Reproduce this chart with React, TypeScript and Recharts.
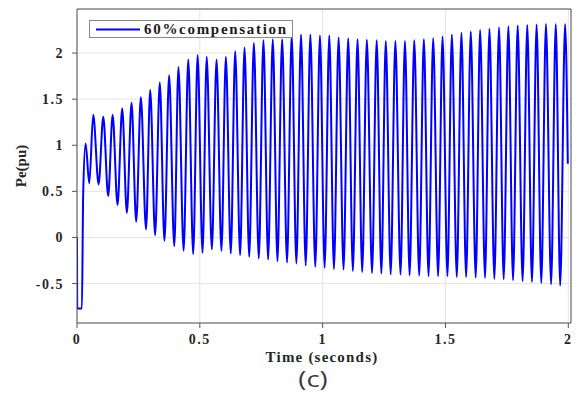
import React from "react";
import {
  LineChart,
  Line,
  XAxis,
  YAxis,
  CartesianGrid,
} from "recharts";

// start-up transient
const startT = [0, 0.001, 0.02, 0.025];
const startPe = [0, -0.77, -0.77, 0.45];

// oscillation crests
const peakT = [
  0.035, 0.066, 0.107, 0.145, 0.184, 0.222, 0.26, 0.298, 0.337, 0.375, 0.413, 0.453, 0.491, 0.528, 0.568, 0.606, 0.644,
  0.682, 0.72, 0.759, 0.797, 0.835, 0.874, 0.912, 0.95, 0.989, 1.027, 1.065, 1.104, 1.142, 1.18, 1.22, 1.257, 1.296,
  1.335, 1.373, 1.412, 1.45, 1.488, 1.526, 1.565, 1.603, 1.641, 1.679, 1.718, 1.756, 1.794, 1.833, 1.871, 1.909, 1.949, 1.987,
];
const peakPe = [
  1.02, 1.33, 1.31, 1.33, 1.4, 1.46, 1.52, 1.6, 1.68, 1.76, 1.85, 1.93, 1.98, 1.96, 1.93, 1.96, 2.02,
  2.06, 2.11, 2.14, 2.15, 2.15, 2.19, 2.2, 2.2, 2.19, 2.19, 2.17, 2.16, 2.15, 2.145, 2.14, 2.13, 2.13,
  2.13, 2.14, 2.15, 2.16, 2.18, 2.2, 2.22, 2.235, 2.25, 2.265, 2.28, 2.29, 2.3, 2.305, 2.31, 2.315, 2.315, 2.315,
];

// oscillation troughs
const troughT = [
  0.05, 0.088, 0.127, 0.165, 0.203, 0.241, 0.281, 0.318, 0.356, 0.396, 0.434, 0.473, 0.511, 0.549, 0.588, 0.626, 0.664,
  0.701, 0.74, 0.778, 0.816, 0.855, 0.893, 0.931, 0.97, 1.008, 1.046, 1.085, 1.123, 1.161, 1.201, 1.239, 1.277,
  1.317, 1.354, 1.393, 1.431, 1.47, 1.508, 1.546, 1.584, 1.623, 1.661, 1.699, 1.737, 1.775, 1.814, 1.852, 1.89, 1.93, 1.967,
];
const troughPe = [
  0.587, 0.576, 0.449, 0.351, 0.267, 0.17, 0.087, 0.025, -0.037, -0.095, -0.145, -0.18, -0.167, -0.13, -0.145, -0.174, -0.192,
  -0.21, -0.228, -0.239, -0.258, -0.272, -0.283, -0.305, -0.319, -0.33, -0.341, -0.348, -0.363, -0.374, -0.385, -0.391, -0.399,
  -0.402, -0.41, -0.413, -0.42, -0.42, -0.42, -0.428, -0.428, -0.435, -0.438, -0.45, -0.453, -0.464, -0.475, -0.482, -0.493, -0.507, -0.522,
];

const endT = [1.998];
const endPe = [0.8];

const xTicks = [0, 0.5, 1, 1.5, 2];
const yTicks = [-0.5, 0, 0.5, 1, 1.5, 2];

const rows = [
  ...startT.map((t, i) => ({ t, pe: startPe[i] })),
  ...peakT.map((t, i) => ({ t, pe: peakPe[i] })),
  ...troughT.map((t, i) => ({ t, pe: troughPe[i] })),
  ...endT.map((t, i) => ({ t, pe: endPe[i] })),
].sort((a, b) => a.t - b.t);

const serif = "'Liberation Serif', 'Times New Roman', serif";
const axisColor = "#555";
const tickStyle = {
  fill: "#262626",
  fontSize: 14,
  fontFamily: serif,
  fontWeight: 700,
  letterSpacing: 1.5,
};

export default function App() {
  return (
    <div
      style={{
        position: "absolute",
        left: 0,
        top: 0,
        width: 576,
        height: 393,
        background: "#fff",
      }}
    >
      <LineChart
        width={576}
        height={393}
        data={rows}
        margin={{ top: 0, right: 0, bottom: 0, left: 0 }}
      >
        <CartesianGrid stroke="#e4e4e4" />
        <XAxis
          dataKey="t"
          type="number"
          domain={[0, 2.011]}
          ticks={xTicks}
          allowDataOverflow
          height={70}
          tickSize={5}
          tickMargin={6}
          tick={tickStyle}
          axisLine={{ stroke: axisColor }}
          tickLine={{ stroke: axisColor }}
          label={(props: any) => {
            const vb = props.viewBox || { x: 77, width: 494 };
            return (
              <text
                x={vb.x + vb.width / 2 - 2}
                y={362}
                textAnchor="middle"
                fontFamily={serif}
                fontWeight={700}
                fontSize={15}
                letterSpacing={1.2}
                fill="#262626"
              >
                Time (seconds)
              </text>
            );
          }}
        />
        <XAxis
          xAxisId="top"
          orientation="top"
          type="number"
          domain={[0, 2.011]}
          ticks={xTicks}
          allowDataOverflow
          height={9}
          tickSize={5}
          tick={false}
          axisLine={{ stroke: axisColor }}
          tickLine={{ stroke: axisColor }}
        />
        <YAxis
          type="number"
          domain={[-0.928, 2.478]}
          ticks={yTicks}
          allowDataOverflow
          width={77}
          tickSize={5}
          tickMargin={8}
          tick={tickStyle}
          axisLine={{ stroke: axisColor }}
          tickLine={{ stroke: axisColor }}
          label={() => (
            <text
              x={26}
              y={166}
              transform="rotate(-90, 26, 166)"
              textAnchor="middle"
              fontFamily={serif}
              fontWeight={700}
              fontSize={15}
              fill="#262626"
            >
              Pe(pu)
            </text>
          )}
        />
        <YAxis
          yAxisId="right"
          orientation="right"
          type="number"
          domain={[-0.928, 2.478]}
          ticks={yTicks}
          allowDataOverflow
          width={5}
          tickSize={5}
          tick={false}
          axisLine={{ stroke: axisColor }}
          tickLine={{ stroke: axisColor }}
        />
        <Line
          type="monotone"
          dataKey="pe"
          stroke="#0000ff"
          strokeWidth={2}
          dot={false}
          isAnimationActive={false}
        />
      </LineChart>

      <div
        style={{
          position: "absolute",
          left: 89,
          top: 20,
          width: 202,
          height: 16,
          border: "1px solid #8a8a8a",
          background: "#fff",
        }}
      >
        <svg width={50} height={16} style={{ position: "absolute", left: 0, top: 0 }}>
          <line x1={6} y1={8.5} x2={51} y2={8.5} stroke="#0000ff" strokeWidth={2} />
        </svg>
        <span
          style={{
            position: "absolute",
            left: 54,
            top: -2,
            fontFamily: serif,
            fontWeight: 700,
            fontSize: 15,
            letterSpacing: 1.7,
            lineHeight: "20px",
            color: "#1a1a1a",
            whiteSpace: "nowrap",
          }}
        >
          60%compensation
        </span>
      </div>

      <div
        style={{
          position: "absolute",
          left: 273,
          top: 364,
          width: 80,
          textAlign: "center",
          fontFamily: "'Open Sans', 'Noto Sans', sans-serif",
          fontSize: 22,
          lineHeight: "28px",
          color: "#3c3c3c",
          transform: "scaleX(1.25)",
        }}
      >
        (c)
      </div>
    </div>
  );
}
